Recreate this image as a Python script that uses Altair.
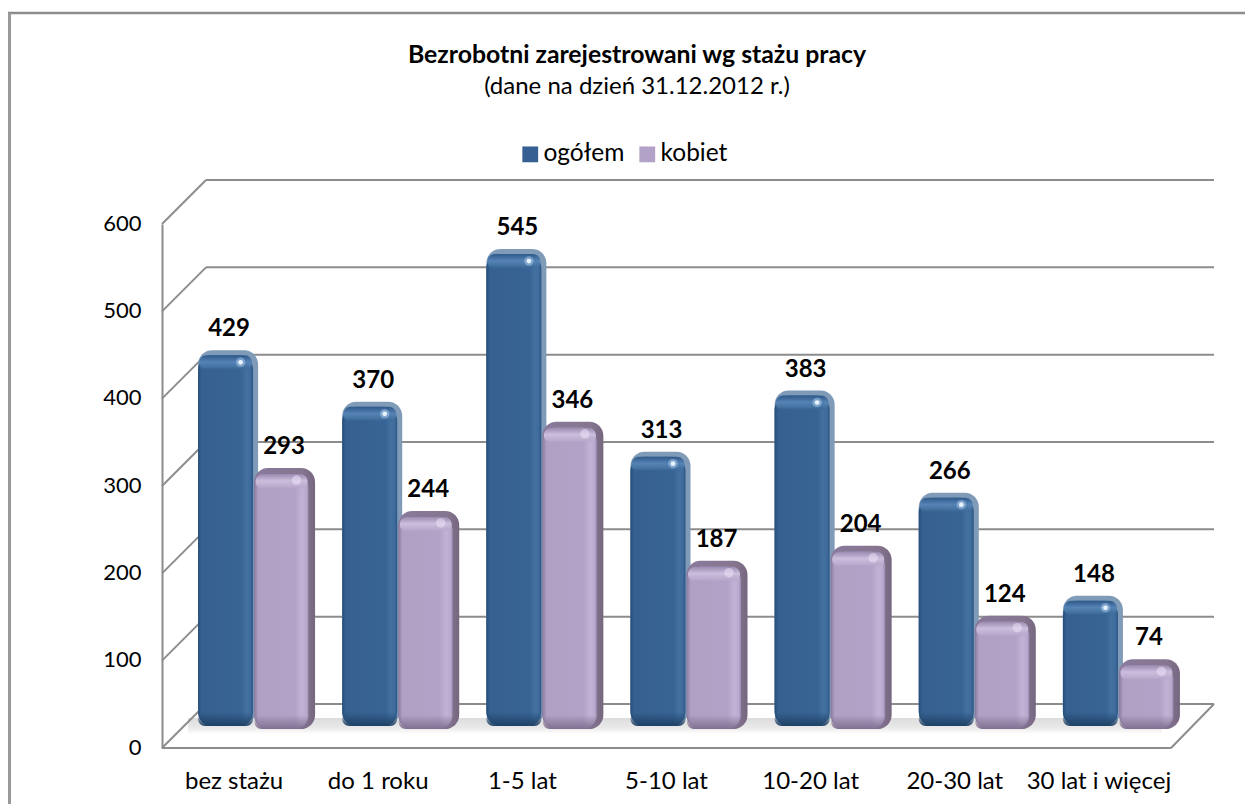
import altair as alt
import pandas as pd

categories = ["bez stażu", "do 1 roku", "1-5 lat", "5-10 lat", "10-20 lat", "20-30 lat", "30 lat i więcej"]
ogolem = [429, 370, 545, 313, 383, 266, 148]
kobiet = [293, 244, 346, 187, 204, 124, 74]
series_names = ["ogółem", "kobiet"]
grid_values = [0, 100, 200, 300, 400, 500, 600]
title_text = "Bezrobotni zarejestrowani wg stażu pracy"
subtitle_text = "(dane na dzień 31.12.2012 r.)"

FONT = "Lato"
GRID = "#8c8c8c"
W, H = 1009, 524
FS = 24

df_b = pd.DataFrame({"cat": categories, "v": ogolem, "s": series_names[0], "base": 0})
df_p = pd.DataFrame({"cat": categories, "v": kobiet, "s": series_names[1], "base": 0})
df_g = pd.DataFrame({"v": grid_values})
df_0 = pd.DataFrame({"v": [0]})

YS = alt.Scale(domain=[0, 600], nice=False)
X = alt.X("cat:N", sort=categories, title=None,
          scale=alt.Scale(paddingInner=0, paddingOuter=0),
          axis=alt.Axis(labelAngle=0, labelFontSize=FS, labelFont=FONT, labelColor="#000000",
                        labelPadding=21, domain=False, ticks=False, grid=False, labelOverlap=False))
Y = alt.Y("v:Q", title=None, scale=YS,
          axis=alt.Axis(values=grid_values, labelFontSize=FS - 2, labelFont=FONT, labelColor="#000000",
                        labelPadding=21, ticks=False, grid=False, domainColor=GRID, domainWidth=2,
                        labelOffset=-1))
Y_PLAIN = alt.Y("v:Q", title=None, scale=YS)
Y2 = alt.Y2("base:Q")


def grad_h(stops):
    return alt.Gradient(gradient="linear", x1=0, x2=1, y1=0, y2=0,
                        stops=[alt.GradientStop(offset=o, color=c) for o, c in stops])


def grad_v(stops):
    return alt.Gradient(gradient="linear", x1=0, x2=0, y1=0, y2=1,
                        stops=[alt.GradientStop(offset=o, color=c) for o, c in stops])


def slab(df, size, xoff, top, bottom, fill, radius=14):
    return alt.Chart(df).mark_bar(size=size, xOffset=xoff, yOffset=top, y2Offset=bottom,
                                  cornerRadius=radius, color=fill).encode(x=X, y=Y, y2=Y2)


def strip(df, size, xoff, top, bottom, fill, radius=11):
    return alt.Chart(df).mark_bar(size=size, xOffset=xoff, yOffset=top, y2Offset=bottom,
                                  cornerRadius=radius, color=fill).encode(x=X, y=Y, y2=alt.Y2("v:Q"))


def bottom_strip(df, size, xoff, top, bottom, fill, radius=14):
    return alt.Chart(df).mark_bar(size=size, xOffset=xoff, yOffset=top, y2Offset=bottom,
                                  cornerRadius=radius, color=fill).encode(
        x=X, y=alt.Y("base:Q", title=None, scale=YS), y2=Y2)


frame_top = alt.Chart(df_0).mark_rule(color="#8c8c8c", strokeWidth=2.5).encode(
    x=alt.value(-154), x2=alt.value(1083), y=alt.value(-211))
frame_left = alt.Chart(df_0).mark_rule(color="#999999", strokeWidth=3).encode(
    x=alt.value(-152.5), y=alt.value(-211), y2=alt.value(600))
floor = alt.Chart(df_0).mark_rect(
    color=grad_v([(0, "#dcdcdc"), (0.6, "#e9e9e9"), (1, "#ffffff")])
).encode(x=alt.value(26), x2=alt.value(1000), y=alt.value(494), y2=alt.value(510))

back = alt.Chart(df_g).mark_rule(color=GRID, strokeWidth=2, yOffset=-44).encode(
    x=alt.value(44), x2=alt.value(1052), y=Y_PLAIN)
side = alt.Chart(df_g).mark_rule(color=GRID, strokeWidth=2, y2Offset=-44).encode(
    x=alt.value(0), x2=alt.value(44), y=Y_PLAIN, y2=alt.Y2("v:Q"))
front = alt.Chart(df_0).mark_rule(color=GRID, strokeWidth=2).encode(
    x=alt.value(0), x2=alt.value(1009), y=Y_PLAIN)
right = alt.Chart(df_0).mark_rule(color=GRID, strokeWidth=2, y2Offset=-44).encode(
    x=alt.value(1009), x2=alt.value(1052), y=Y_PLAIN, y2=alt.Y2("v:Q"))

color_scale = alt.Scale(domain=series_names, range=["#376092", "#b3a2c7"])
legend = alt.Legend(title=None, orient="none", legendX=356, legendY=-82, direction="horizontal",
                    symbolType="square", symbolSize=250, labelFontSize=FS + 0.5, labelFont=FONT,
                    labelColor="#000000", columnPadding=10, symbolStrokeWidth=0, labelOffset=1)


def base_layer(df, size, xoff, top, bottom):
    return alt.Chart(df).mark_bar(size=size, xOffset=xoff, yOffset=top, y2Offset=bottom, cornerRadius=14).encode(
        x=X, y=Y, y2=Y2, color=alt.Color("s:N", scale=color_scale, legend=legend))


BX, PX = -8.5, 47.5
blue_face = grad_h([(0, "#274d78"), (0.06, "#35608f"), (0.78, "#386495"), (0.88, "#42709f"), (0.95, "#3f6c9c"), (1, "#2c5585")])
blue_top = grad_v([(0, "#2f5a8a"), (0.45, "#5583b5"), (0.8, "#43719f"), (1, "rgba(56,100,149,0)")])
blue_bot = grad_v([(0, "rgba(31,65,102,0)"), (1, "#1f4166")])
purple_face = grad_h([(0, "#8f7ea5"), (0.07, "#b0a0c4"), (0.75, "#b3a2c7"), (0.88, "#c2b3d6"), (0.96, "#b9a9cd"), (1, "#9a8ab0")])
purple_top = grad_v([(0, "#9b8ab0"), (0.45, "#cbbedd"), (0.85, "#baaacd"), (1, "rgba(179,162,199,0)")])
purple_bot = grad_v([(0, "rgba(127,111,144,0)"), (1, "#7f6f90")])

title_mark = alt.Chart(df_0).mark_text(text=title_text, font=FONT, fontSize=24.8, fontWeight="bold", color="#000000",
                                       align="center", baseline="middle").encode(
    x=alt.value(475), y=alt.value(-168))
subtitle_mark = alt.Chart(df_0).mark_text(text=subtitle_text, font=FONT, fontSize=24, color="#000000",
                                          align="center", baseline="middle").encode(
    x=alt.value(475), y=alt.value(-137))

layers = [
    frame_top, frame_left, floor, back, side, front, right,
    base_layer(df_b, 55, BX, -18, -22),
    slab(df_b, 60, BX + 2.5, -23, -26, "#7f9bb8"),
    slab(df_b, 55, BX, -18, -22, blue_face),
    strip(df_b, 53, BX, -18, -3, blue_top),
    bottom_strip(df_b, 55, BX, -36, -22, blue_bot),
    alt.Chart(df_b).mark_circle(color="#bcd8f7", size=90, opacity=0.45, xOffset=BX + 15, yOffset=-11).encode(x=X, y=Y),
    alt.Chart(df_b).mark_circle(color="#eaf4ff", size=22, opacity=1, xOffset=BX + 15, yOffset=-11).encode(x=X, y=Y),
    base_layer(df_p, 54, PX, -18, -19),
    slab(df_p, 61, PX + 3, -24, -19, grad_h([(0, "#8a7a9c"), (0.8, "#85758f"), (1, "#766680")])),
    slab(df_p, 54, PX, -18, -19, purple_face),
    strip(df_p, 52, PX, -18, -3, purple_top),
    bottom_strip(df_p, 54, PX, -33, -19, purple_bot),
    alt.Chart(df_p).mark_circle(color="#efe6fb", size=90, opacity=0.5, xOffset=PX + 15, yOffset=-12).encode(x=X, y=Y),
    alt.Chart(df_b).mark_text(fontSize=FS, fontWeight="bold", font=FONT, color="#000000", xOffset=-5, yOffset=-44).encode(
        x=X, y=Y, text="v:Q"),
    alt.Chart(df_p).mark_text(fontSize=FS, fontWeight="bold", font=FONT, color="#000000", xOffset=50, yOffset=-45).encode(
        x=X, y=Y, text="v:Q"),
    title_mark, subtitle_mark,
]

chart = alt.layer(*layers).properties(
    width=W,
    height=H,
    padding={"left": 154, "top": 216, "right": 74, "bottom": 56},
    autosize=alt.AutoSizeParams(type="none"),
).configure_view(stroke=None)

chart.save("out.html", embed_options={"renderer": "svg", "actions": False})
